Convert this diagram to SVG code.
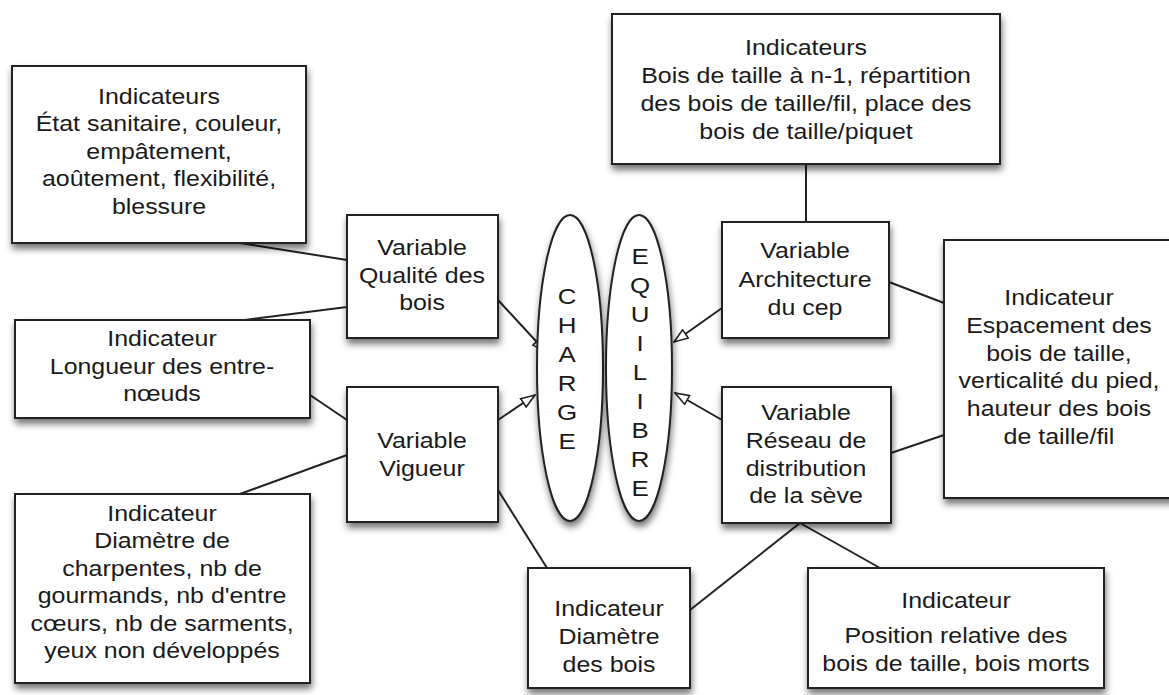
<svg xmlns="http://www.w3.org/2000/svg" width="1169" height="695" viewBox="0 0 1169 695">
<style>
.box{fill:#fff;stroke:#222;stroke-width:2;filter:url(#sh)}
.ell{fill:#fff;stroke:#222;stroke-width:2;filter:url(#sh)}
.t{font-family:"Liberation Sans",Arial,Helvetica,sans-serif;font-size:21.5px;text-anchor:middle;fill:#1a1a1a}
.L{font-family:"Liberation Sans",Arial,Helvetica,sans-serif;font-size:22.5px;text-anchor:middle;fill:#1a1a1a}
.c{stroke:#222;stroke-width:2;fill:none}
.a{marker-end:url(#tri)}
</style>
<defs>
<filter id="sh" x="-15%" y="-15%" width="135%" height="140%">
<feDropShadow dx="1" dy="5" stdDeviation="3.5" flood-color="#000" flood-opacity="0.55"/>
</filter>
<marker id="tri" viewBox="0 0 16 12" refX="15" refY="6" markerWidth="16" markerHeight="12" markerUnits="userSpaceOnUse" orient="auto">
<path d="M1,1 L15,6 L1,11 Z" fill="#fff" stroke="#222" stroke-width="1.6"/>
</marker>
</defs>
<rect width="1169" height="695" fill="#fff"/>

<g id="connectors">
<line class="c" x1="240" y1="243" x2="347" y2="260"/>
<line class="c" x1="245" y1="320" x2="347" y2="307"/>
<line class="c" x1="310" y1="395" x2="347" y2="420"/>
<line class="c" x1="240" y1="494" x2="347" y2="455"/>
<line class="c" x1="498" y1="490" x2="547" y2="568"/>
<line class="c" x1="806" y1="164" x2="806" y2="222"/>
<line class="c" x1="889" y1="282" x2="944" y2="303"/>
<line class="c" x1="891" y1="453" x2="944" y2="435"/>
<line class="c" x1="800" y1="523" x2="690" y2="610"/>
<line class="c" x1="800" y1="523" x2="880" y2="568"/>
<line class="c a" x1="498" y1="300" x2="546" y2="352"/>
<line class="c a" x1="498" y1="420" x2="535" y2="395"/>
<line class="c a" x1="722" y1="308" x2="674" y2="342"/>
<line class="c a" x1="722" y1="420" x2="675" y2="393"/>
</g>

<g id="charge">
<ellipse class="ell" cx="570" cy="368" rx="33" ry="153"/>
<g transform="translate(567 0) scale(1.15 1)"><text class="L"><tspan x="0" y="304">C</tspan><tspan x="0" y="333">H</tspan><tspan x="0" y="362">A</tspan><tspan x="0" y="391">R</tspan><tspan x="0" y="420">G</tspan><tspan x="0" y="449">E</tspan></text></g>
</g>
<g id="equilibre">
<ellipse class="ell" cx="639" cy="368" rx="33" ry="153"/>
<g transform="translate(640 0) scale(1.15 1)"><text class="L"><tspan x="0" y="264">E</tspan><tspan x="0" y="293">Q</tspan><tspan x="0" y="322">U</tspan><tspan x="0" y="351">I</tspan><tspan x="0" y="380">L</tspan><tspan x="0" y="409">I</tspan><tspan x="0" y="438">B</tspan><tspan x="0" y="467">R</tspan><tspan x="0" y="496">E</tspan></text></g>
</g>

<g id="ind-qualite">
<rect class="box" x="12" y="66" width="294" height="177"/>
<g transform="translate(159 0) scale(1.16 1)"><text class="t"><tspan x="0" y="104">Indicateurs</tspan><tspan x="0" y="131.5">État sanitaire, couleur,</tspan><tspan x="0" y="159">empâtement,</tspan><tspan x="0" y="186.5">aoûtement, flexibilité,</tspan><tspan x="0" y="214">blessure</tspan></text></g>
</g>

<g id="var-qualite">
<rect class="box" x="347" y="215" width="151" height="123"/>
<g transform="translate(422 0) scale(1.16 1)"><text class="t"><tspan x="0" y="255">Variable</tspan><tspan x="0" y="283">Qualité des</tspan><tspan x="0" y="310">bois</tspan></text></g>
</g>

<g id="ind-longueur">
<rect class="box" x="15" y="320" width="295" height="98"/>
<g transform="translate(162 0) scale(1.16 1)"><text class="t"><tspan x="0" y="346">Indicateur</tspan><tspan x="0" y="374">Longueur des entre-</tspan><tspan x="0" y="401">nœuds</tspan></text></g>
</g>

<g id="var-vigueur">
<rect class="box" x="347" y="387" width="151" height="135"/>
<g transform="translate(422 0) scale(1.16 1)"><text class="t"><tspan x="0" y="448">Variable</tspan><tspan x="0" y="476">Vigueur</tspan></text></g>
</g>

<g id="ind-charpentes">
<rect class="box" x="15" y="494" width="295" height="189"/>
<g transform="translate(162 0) scale(1.16 1)"><text class="t"><tspan x="0" y="521">Indicateur</tspan><tspan x="0" y="548.5">Diamètre de</tspan><tspan x="0" y="576">charpentes, nb de</tspan><tspan x="0" y="603.5">gourmands, nb d'entre</tspan><tspan x="0" y="631">cœurs, nb de sarments,</tspan><tspan x="0" y="658.5">yeux non développés</tspan></text></g>
</g>

<g id="ind-bois-taille">
<rect class="box" x="612" y="14" width="388" height="150"/>
<g transform="translate(806 0) scale(1.16 1)"><text class="t"><tspan x="0" y="55">Indicateurs</tspan><tspan x="0" y="83">Bois de taille à n-1, répartition</tspan><tspan x="0" y="111">des bois de taille/fil, place des</tspan><tspan x="0" y="139">bois de taille/piquet</tspan></text></g>
</g>

<g id="var-architecture">
<rect class="box" x="722" y="222" width="167" height="116"/>
<g transform="translate(805 0) scale(1.16 1)"><text class="t"><tspan x="0" y="258">Variable</tspan><tspan x="0" y="287">Architecture</tspan><tspan x="0" y="315">du cep</tspan></text></g>
</g>

<g id="ind-espacement">
<rect class="box" x="944" y="240" width="240" height="258"/>
<g transform="translate(1059 0) scale(1.16 1)"><text class="t"><tspan x="0" y="305">Indicateur</tspan><tspan x="0" y="333">Espacement des</tspan><tspan x="0" y="361">bois de taille,</tspan><tspan x="0" y="388">verticalité du pied,</tspan><tspan x="0" y="416">hauteur des bois</tspan><tspan x="0" y="444">de taille/fil</tspan></text></g>
</g>

<g id="var-reseau">
<rect class="box" x="722" y="387" width="169" height="136"/>
<g transform="translate(806 0) scale(1.16 1)"><text class="t"><tspan x="0" y="420">Variable</tspan><tspan x="0" y="448">Réseau de</tspan><tspan x="0" y="476">distribution</tspan><tspan x="0" y="503">de la sève</tspan></text></g>
</g>

<g id="ind-diametre-bois">
<rect class="box" x="528" y="568" width="162" height="120"/>
<g transform="translate(609 0) scale(1.16 1)"><text class="t"><tspan x="0" y="616">Indicateur</tspan><tspan x="0" y="644">Diamètre</tspan><tspan x="0" y="672">des bois</tspan></text></g>
</g>

<g id="ind-position">
<rect class="box" x="808" y="568" width="296" height="120"/>
<g transform="translate(956 0) scale(1.16 1)"><text class="t"><tspan x="0" y="608">Indicateur</tspan><tspan x="0" y="643">Position relative des</tspan><tspan x="0" y="671">bois de taille, bois morts</tspan></text></g>
</g>
</svg>
